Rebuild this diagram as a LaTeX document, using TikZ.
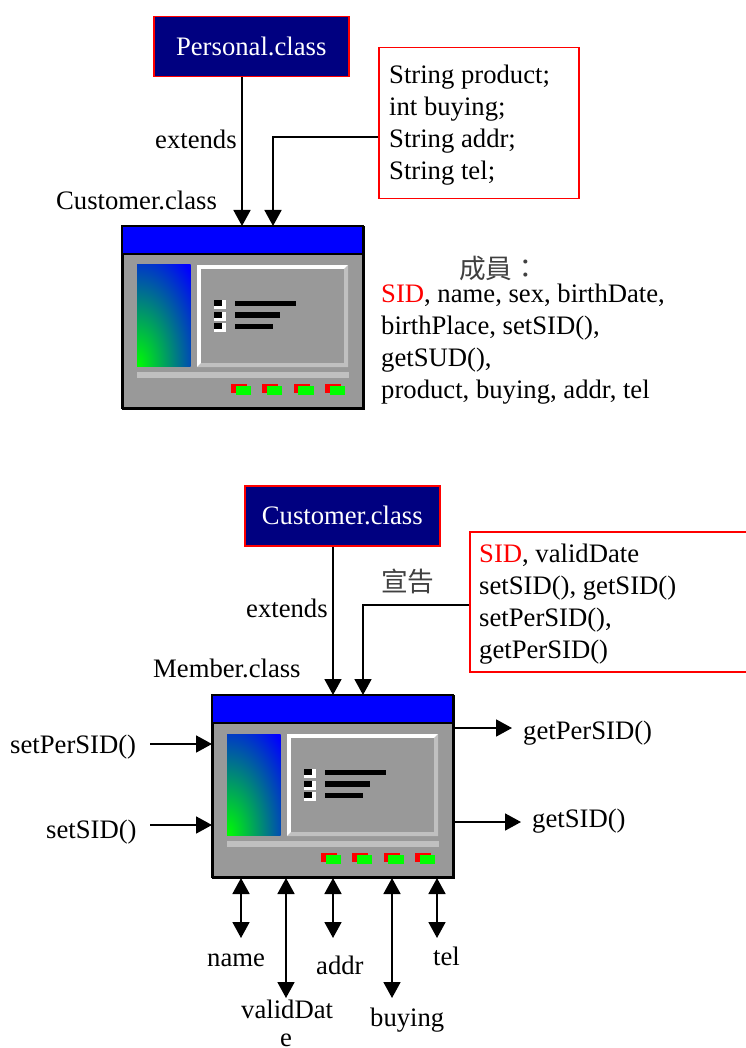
\documentclass[tikz,border=0pt]{standalone}
\usepackage{fontspec}
\setmainfont{Liberation Serif}
\newfontfamily\cjk{Noto Sans CJK TC}
\usetikzlibrary{arrows.meta}
\definecolor{winGray}{HTML}{999999}
\definecolor{winLight}{HTML}{C0C0C0}
\definecolor{sidRed}{HTML}{FF0000}
\definecolor{navyBox}{HTML}{000080}
\pgfdeclareradialshading{cornerglow}{\pgfpoint{0bp}{0bp}}{color(0bp)=(green); color(25bp)=(blue); color(50bp)=(blue)}
\tikzset{
  x=1pt,y=-1pt,
  lbl/.style={inner sep=0pt,anchor=base west,font=\fontsize{26.67}{32}\selectfont,text=black},
  cjklbl/.style={inner sep=0pt,anchor=base west,font=\fontsize{26.67}{32}\selectfont\cjk,text=black!75},
  redbox/.style={draw=red,line width=1.5pt,fill=white},
  classbox/.style={draw=red,line width=1.5pt,fill=navyBox,text=white,inner sep=0pt,font=\fontsize{26.67}{32}\selectfont},
  conn/.style={line width=1.8pt,-{Triangle[length=16pt,width=17pt]}},
  dconn/.style={line width=1.8pt,{Triangle[length=16pt,width=17pt]}-{Triangle[length=16pt,width=17pt]}},
}
\newcommand{\appwindow}[3]{%
\begin{scope}[shift={(#1,#2)}]
  \node[draw=black,line width=1.6pt,fill=winGray,minimum width=241pt,minimum height=182pt,inner sep=0pt,anchor=north west] (#3) at (122,226) {};
  \fill[blue] (122,226) rectangle (363,254);
  \draw[black,line width=1.4pt] (122,254) -- (363,254);
  \draw[black,line width=1.6pt] (122,226) rectangle (363,408);
  \begin{scope}
    \clip (137,265) rectangle (190.5,366.5);
    \shade[shading=cornerglow] (61,234.5) rectangle (213,498.5);
  \end{scope}
  \fill[white] (197,265) rectangle (348,367);
  \fill[winLight] (348,265) -- (348,367) -- (197,367) -- (201,363) -- (344,363) -- (344,269) -- cycle;
  \fill[winGray] (201,269) rectangle (344,363);
  \fill[winLight] (137,372) rectangle (349,378);
  \foreach \yy in {300,311.5,323}{
    \fill[white] (214,\yy) rectangle (226,\yy+9);
    \fill[black] (214,\yy) rectangle (222,\yy+6);
  }
  \fill[black] (235,300.5) rectangle (295.5,306);
  \fill[black] (235,312) rectangle (280,317.5);
  \fill[black] (235,323.5) rectangle (273,329);
  \foreach \xx in {0,31.3,62.6,94}{
    \fill[red] (231+\xx,384) rectangle (247+\xx,393);
    \fill[green] (235.5+\xx,386) rectangle (251+\xx,395);
  }
\end{scope}}
\begin{document}
\begin{tikzpicture}
\useasboundingbox (0,0) rectangle (745,1048);
% top class
\node[classbox,minimum width=195pt,minimum height=60pt,anchor=north west] (personal) at (153,16) {Personal.class};
\node[redbox,minimum width=200pt,minimum height=151pt,anchor=north west] (fields) at (378,47) {};
\node[lbl] (f1) at (389,84) {String product;};
\node[lbl] (f2) at (389,116) {int buying;};
\node[lbl] (f3) at (389,148) {String addr;};
\node[lbl] (f4) at (389,180) {String tel;};
\node[lbl] (ext1) at (155,149) {extends};
\node[lbl] (cust) at (56,210) {Customer.class};
\appwindow{0}{0}{win1}
\coordinate (w1a) at (242,226);
\coordinate (w1b) at (273,226);
\coordinate (f3w) at (378,137);
\draw[conn] (personal.south -| w1a) -- (w1a);
\draw[conn] (f3w) -| (w1b);
\node[cjklbl] (cheng) at (459,279) {成員：};
\node[lbl] (m1) at (381,302) {\textcolor{sidRed}{SID}, name, sex, birthDate,};
\node[lbl] (m2) at (381,334) {birthPlace, setSID(),};
\node[lbl] (m3) at (381,366) {getSUD(),};
\node[lbl] (m4) at (381,398) {product, buying, addr, tel};
% bottom class
\node[classbox,minimum width=195pt,minimum height=60pt,anchor=north west] (customer) at (244,485) {Customer.class};
\node[redbox,minimum width=290pt,minimum height=140pt,anchor=north west] (decl) at (469,531) {};
\node[lbl] (d1) at (479,562) {\textcolor{sidRed}{SID}, validDate};
\node[lbl] (d2) at (479,594) {setSID(), getSID()};
\node[lbl] (d3) at (479,626) {setPerSID(),};
\node[lbl] (d4) at (479,658) {getPerSID()};
\node[cjklbl] (xuan) at (381,591) {宣告};
\node[lbl] (ext2) at (246,617) {extends};
\node[lbl] (memb) at (153,677) {Member.class};
\appwindow{90}{469}{win2}
\coordinate (w2a) at (333,695);
\coordinate (w2b) at (363,695);
\coordinate (dw) at (469,605);
\draw[conn] (customer.south -| w2a) -- (w2a);
\draw[conn] (dw) -| (w2b);
\node[lbl] (spid) at (10,753) {setPerSID()};
\node[lbl] (ssid) at (46,838) {setSID()};
\node[lbl] (gpid) at (523,739) {getPerSID()};
\node[lbl] (gsid) at (532,827) {getSID()};
\coordinate (a1) at (150,744); \coordinate (a2) at (212,744);
\coordinate (b1) at (150,825); \coordinate (b2) at (212,825);
\coordinate (c1) at (454,728); \coordinate (c2) at (512,728);
\coordinate (e1) at (454,822); \coordinate (e2) at (521,822);
\draw[conn] (a1) -- (a2);
\draw[conn] (b1) -- (b2);
\draw[conn] (c1) -- (c2);
\draw[conn] (e1) -- (e2);
\foreach \n/\xx/\yy in {p/241/938,q/286/998,r/333/938,s/392/998,t/437/938}{
  \coordinate (\n1) at (\xx,878);
  \coordinate (\n2) at (\xx,\yy);
  \draw[dconn] (\n1) -- (\n2);
}
\node[lbl] (lname) at (207,966) {name};
\node[lbl] (laddr) at (316,974) {addr};
\node[lbl] (ltel) at (433,965) {tel};
\node[lbl] (lvalid) at (241,1018) {validDat};
\node[lbl] (lvalid2) at (280,1046) {e};
\node[lbl] (lbuy) at (370,1026) {buying};
\end{tikzpicture}
\end{document}
